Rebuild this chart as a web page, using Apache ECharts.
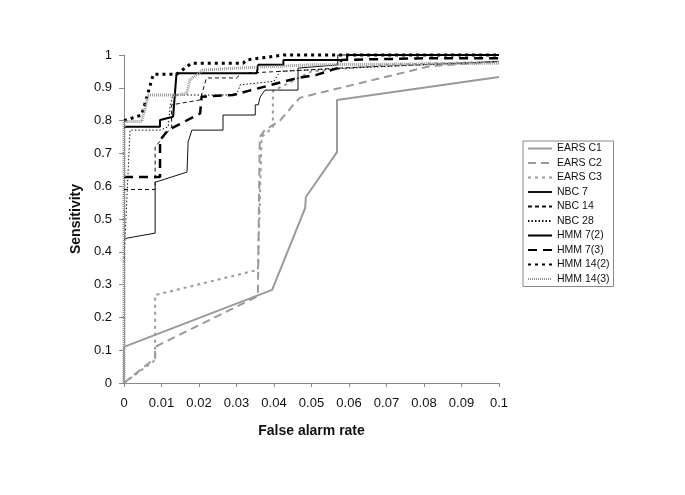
<!DOCTYPE html>
<html>
<head>
<meta charset="utf-8">
<script src="https://cdn.jsdelivr.net/npm/echarts@6/dist/echarts.min.js"></script>
<style>
html,body{margin:0;padding:0;background:#fff;}
#chart{width:685px;height:495px;}
</style>
</head>
<body>
<div id="chart"></div>
<script>
// ---- data: [false alarm rate, sensitivity] ----
const earsC1 = [[0,0],[0,0.11],[0.0395,0.284],[0.0483,0.533],[0.0485,0.567],[0.0568,0.704],[0.0568,0.863],[0.1,0.933]];
const earsC2 = [[0,0],[0.0083,0.076],[0.0083,0.11],[0.0357,0.265],[0.0362,0.75],[0.0375,0.77],[0.0416,0.80],[0.0456,0.854],[0.047,0.87],[0.0816,0.966],[0.1,0.98]];
const earsC3 = [[0,0],[0.0083,0.07],[0.0083,0.268],[0.0357,0.345],[0.0367,0.75],[0.0397,0.78],[0.0397,0.89],[0.05,0.95],[0.07,0.97],[0.1,0.98]];
const nbc7 = [[0,0.44],[0.0083,0.457],[0.0083,0.612],[0.0168,0.643],[0.0171,0.735],[0.0181,0.771],[0.0264,0.771],[0.0264,0.817],[0.035,0.817],[0.035,0.848],[0.0358,0.848],[0.0363,0.872],[0.0376,0.893],[0.0464,0.893],[0.0464,0.96],[0.057,0.97],[0.057,1.0],[0.1,1.0]];
const nbc14 = [[0,0.59],[0.0083,0.59],[0.0083,0.72],[0.0127,0.78],[0.0127,0.848],[0.0203,0.863],[0.022,0.93],[0.030,0.93],[0.0313,0.944],[0.05,0.955],[0.057,0.96],[0.1,0.98]];
const nbc28 = [[0,0.37],[0.0016,0.771],[0.0096,0.771],[0.0118,0.781],[0.0123,0.842],[0.013,0.878],[0.030,0.878],[0.031,0.909],[0.040,0.92],[0.0416,0.95],[0.06,0.96],[0.1,0.98]];
const hmm7_2 = [[0,0.781],[0.0096,0.781],[0.0096,0.802],[0.0131,0.812],[0.014,0.944],[0.0354,0.944],[0.0358,0.97],[0.0425,0.97],[0.0425,0.985],[0.0595,0.985],[0.0595,1.0],[0.1,1.0]];
const hmm7_3 = [[0,0.628],[0.0096,0.628],[0.0096,0.741],[0.0118,0.771],[0.0203,0.822],[0.0207,0.873],[0.029,0.878],[0.046,0.929],[0.0515,0.94],[0.057,0.96],[0.058,0.985],[0.08,0.99],[0.1,0.99]];
const hmm14_2 = [[0,0.80],[0.0047,0.817],[0.006,0.868],[0.0078,0.941],[0.014,0.941],[0.018,0.975],[0.0318,0.975],[0.0327,0.985],[0.0425,1.0],[0.1,1.0]];
const hmm14_3 = [[0,0],[0,0.797],[0.0047,0.797],[0.0065,0.878],[0.014,0.878],[0.0167,0.883],[0.0176,0.924],[0.021,0.954],[0.03,0.96],[0.05,0.97],[0.1,0.975]];

const seriesNames = ['EARS C1','EARS C2','EARS C3','NBC 7','NBC 14','NBC 28','HMM 7(2)','HMM 7(3)','HMM 14(2)','HMM 14(3)'];
const seriesData = [earsC1, earsC2, earsC3, nbc7, nbc14, nbc28, hmm7_2, hmm7_3, hmm14_2, hmm14_3];
const xTickLabels = ['0','0.01','0.02','0.03','0.04','0.05','0.06','0.07','0.08','0.09','0.1'];
const yTickLabels = ['0','0.1','0.2','0.3','0.4','0.5','0.6','0.7','0.8','0.9','1'];

// ---- styles ----
const styles = [
  {color:'#9a9a9a', width:2, type:'solid'},
  {color:'#9a9a9a', width:2, type:[8,5]},
  {color:'#9a9a9a', width:2, type:[3,4]},
  {color:'#111', width:1, type:'solid'},
  {color:'#111', width:1, type:[4,3]},
  {color:'#111', width:1, type:[1.5,2]},
  {color:'#000', width:2, type:'solid'},
  {color:'#000', width:2.5, type:[9,6]},
  {color:'#000', width:3, type:[3,4]},
  {color:'#9a9a9a', width:3, type:[1,1]}
];

const chart = echarts.init(document.getElementById('chart'), null, {renderer:'canvas'});
const font = 'Liberation Sans, Arial, sans-serif';
chart.setOption({
  animation:false,
  backgroundColor:'#fff',
  grid:{left:124, right:186, top:55, bottom:112},
  legend:{
    orient:'vertical', left:523, top:141,
    data:seriesNames,
    borderColor:'#888', borderWidth:1,
    padding:[2,4,2,4],
    itemWidth:24, itemHeight:12, itemGap:3.5,
    itemStyle:{opacity:0},
    textStyle:{fontFamily:font, fontSize:10.5, color:'#111'}
  },
  xAxis:{
    type:'value', min:0, max:0.1, interval:0.01,
    name:'False alarm rate', nameLocation:'middle', nameGap:41,
    nameTextStyle:{fontFamily:font, fontSize:14, fontWeight:'bold', color:'#111'},
    axisLine:{show:true, lineStyle:{color:'#888', width:1}},
    axisTick:{show:true, length:4, lineStyle:{color:'#888'}},
    axisLabel:{fontFamily:font, fontSize:13, color:'#111', margin:14,
      formatter:(v)=>xTickLabels[Math.round(v/0.01)]},
    splitLine:{show:false}
  },
  yAxis:{
    type:'value', min:0, max:1, interval:0.1,
    name:'Sensitivity', nameLocation:'middle', nameGap:40, nameRotate:90,
    nameTextStyle:{fontFamily:font, fontSize:14, fontWeight:'bold', color:'#111'},
    axisLine:{show:true, lineStyle:{color:'#888', width:1}},
    axisTick:{show:true, length:5, lineStyle:{color:'#888'}},
    axisLabel:{fontFamily:font, fontSize:13, color:'#111', margin:12,
      formatter:(v)=>yTickLabels[Math.round(v/0.1)]},
    splitLine:{show:false}
  },
  series: seriesNames.map((n,i)=>({
    name:n, type:'line', data:seriesData[i],
    symbol:'none', showSymbol:false,
    lineStyle:{color:styles[i].color, width:styles[i].width, type:styles[i].type},
    itemStyle:{color:styles[i].color},
    clip:false,
    z: 2+i
  }))
});
</script>
</body>
</html>
